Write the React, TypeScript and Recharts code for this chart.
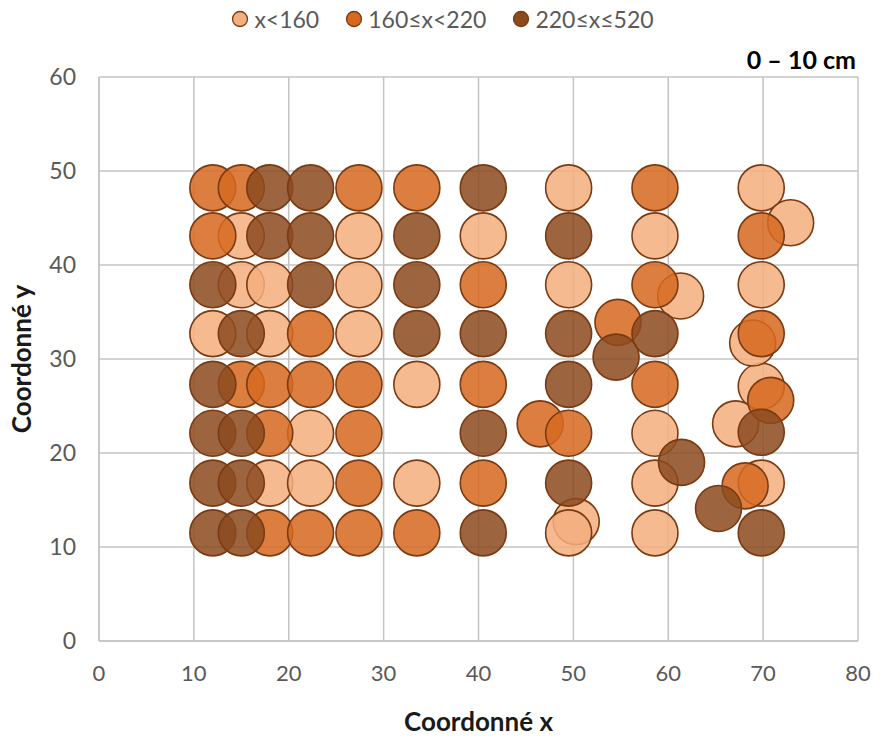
import React from 'react';
import { ScatterChart, Scatter, XAxis, YAxis, CartesianGrid } from 'recharts';

// Tick labels
const xTicks = [0, 10, 20, 30, 40, 50, 60, 70, 80];
const yTicks = [0, 10, 20, 30, 40, 50, 60];

// Series names
const seriesNames = ['x<160', '160≤x<220', '220≤x≤520'];

// x<160
const lowX = [12, 15, 15, 18, 18, 18, 22.3, 22.3, 27.4, 27.4, 27.4, 33.5, 33.5, 40.5, 49.5, 49.5, 50.3, 49.5, 58.6, 58.6, 58.6, 58.6, 61.3, 69.8, 69.8, 69.8, 69.8, 72.9, 68.9, 67.1];
const lowY = [32.7, 43.1, 37.9, 37.9, 32.7, 16.8, 22.1, 16.8, 43.1, 37.9, 32.7, 27.3, 16.8, 43.1, 48.2, 37.9, 12.7, 11.5, 43.1, 22.1, 16.8, 11.5, 36.7, 48.2, 37.9, 27.1, 16.8, 44.5, 31.7, 23.1];

// 160≤x<220
const midX = [12, 12, 15, 15, 18, 18, 18, 22.3, 22.3, 22.3, 27.4, 27.4, 27.4, 27.4, 27.4, 33.5, 33.5, 40.5, 40.5, 40.5, 46.5, 49.5, 54.7, 58.6, 58.6, 58.6, 69.8, 69.8, 70.8, 68.1];
const midY = [48.2, 43.1, 48.2, 27.3, 27.3, 22.1, 11.5, 32.7, 27.3, 11.5, 48.2, 27.3, 22.1, 16.8, 11.5, 48.2, 11.5, 37.9, 27.3, 16.8, 23.1, 22.1, 33.9, 48.2, 37.9, 27.3, 43.1, 32.7, 25.6, 16.5];

// 220≤x≤520
const highX = [12, 12, 12, 12, 12, 15, 15, 15, 15, 18, 18, 22.3, 22.3, 22.3, 33.5, 33.5, 33.5, 40.5, 40.5, 40.5, 40.5, 49.5, 49.5, 49.5, 49.5, 54.5, 58.6, 61.4, 65.3, 69.8, 69.8];
const highY = [37.9, 27.3, 22.1, 16.8, 11.5, 32.7, 22.1, 16.8, 11.5, 48.2, 43.1, 48.2, 43.1, 37.9, 43.1, 37.9, 32.7, 48.2, 32.7, 22.1, 11.5, 43.1, 32.7, 27.3, 16.8, 30.2, 32.7, 19.0, 14.1, 22.2, 11.5];

const colors = ['#F4AF7F', '#D6691F', '#8C4A1F'];
const strokeColor = '#7A3A12';
const FONT = 'Lato, "Open Sans", sans-serif';

const toPoints = (xs: number[], ys: number[]) => xs.map((x, i) => ({ x, y: ys[i] }));
const seriesData = [toPoints(lowX, lowY), toPoints(midX, midY), toPoints(highX, highY)];

const makeShape = (fill: string) => (props: any) => (
  <circle cx={props.cx} cy={props.cy} r={23} fill={fill} fillOpacity={0.86} stroke={strokeColor} strokeWidth={1.6} />
);

const LegendBox = () => (
  <div style={{ position: 'absolute', left: 0, top: 5, width: 885, display: 'flex', justifyContent: 'center', alignItems: 'center', fontFamily: FONT, fontSize: 23, color: '#595959' }}>
    {seriesNames.map((name, i) => (
      <div key={name} style={{ display: 'flex', alignItems: 'center', marginRight: i < 2 ? 26 : 0 }}>
        <svg width={18} height={18} style={{ marginRight: 5 }}>
          <circle cx={9} cy={9} r={7.5} fill={colors[i]} stroke={strokeColor} strokeWidth={1.3} />
        </svg>
        <span>{name}</span>
      </div>
    ))}
  </div>
);

const XLabel = (props: any) => {
  const vb = props.viewBox || {};
  return (
    <text x={vb.x + vb.width / 2} y={vb.y + 90} textAnchor="middle" fontFamily={FONT} fontWeight={700} fontSize={26} fill="#1a1a1a">
      Coordonné x
    </text>
  );
};

const YLabel = (props: any) => {
  const vb = props.viewBox || {};
  const cx = vb.x + 21;
  const cy = vb.y + vb.height / 2;
  return (
    <text x={cx} y={cy} transform={`rotate(-90 ${cx} ${cy})`} textAnchor="middle" dominantBaseline="central" fontFamily={FONT} fontWeight={700} fontSize={26} fill="#1a1a1a">
      Coordonné y
    </text>
  );
};

export default function App() {
  return (
    <div style={{ position: 'absolute', left: 0, top: 0, width: 885, height: 738, background: '#fff' }}>
      <ScatterChart width={885} height={738} margin={{ top: 77, right: 27, bottom: 0, left: 0 }}>
        <CartesianGrid stroke="#c4c4c4" strokeWidth={1.5} />
        <XAxis
          type="number"
          dataKey="x"
          domain={[0, 80]}
          ticks={xTicks}
          height={97}
          tickLine={false}
          tickSize={0}
          tickMargin={24}
          axisLine={{ stroke: '#c4c4c4', strokeWidth: 1.5 }}
          tick={{ fill: '#595959', fontSize: 22, fontFamily: FONT }}
          allowDataOverflow
          label={<XLabel />}
        />
        <YAxis
          type="number"
          dataKey="y"
          domain={[0, 60]}
          ticks={yTicks}
          width={99}
          tickLine={false}
          tickSize={0}
          tickMargin={23}
          axisLine={{ stroke: '#c4c4c4', strokeWidth: 1.5 }}
          tick={{ fill: '#595959', fontSize: 23, fontFamily: FONT }}
          allowDataOverflow
          label={<YLabel />}
        />
        {seriesData.map((d, i) => (
          <Scatter key={seriesNames[i]} name={seriesNames[i]} data={d} fill={colors[i]} shape={makeShape(colors[i])} isAnimationActive={false} />
        ))}
      </ScatterChart>
      <LegendBox />
      <div style={{ position: 'absolute', right: 29, top: 44, fontFamily: FONT, fontWeight: 700, fontSize: 25, color: '#000' }}>
        0 – 10 cm
      </div>
    </div>
  );
}
